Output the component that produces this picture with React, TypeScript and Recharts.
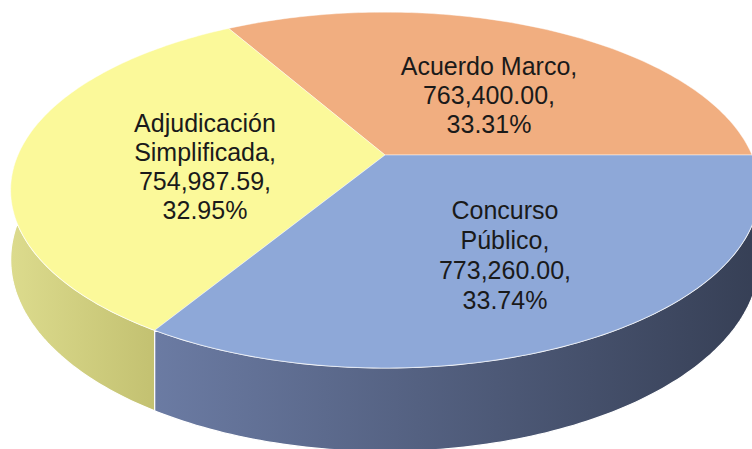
import { PieChart, Pie } from "recharts";

const categories = ["Acuerdo Marco", "Adjudicación Simplificada", "Concurso Público"];
const amounts = [763400.0, 754987.59, 773260.0];

const topColors = ["#F1AE80", "#FBF99A", "#8EA8D8"];
const sideColors = [
  ["#d89a70", "#c0835c"],
  ["#dcdb8d", "#c3c171"],
  ["#6b7ba3", "#363f55"],
];

// where Excel put each data label (centre x, first baseline)
const labelPos = [
  { x: 489, y: 75 },
  { x: 205, y: 132 },
  { x: 505, y: 219 },
];

const data = categories.map((name, i) => ({ name, value: amounts[i] }));

// fake perspective for the tilted disc
const RX = 367;
const RY = 171;
const PERSP = 0.197;
const DEPTH = 67;

function proj(cx: number, cy: number, deg: number, drop = 0) {
  const a = (deg * Math.PI) / 180;
  const u = Math.cos(a);
  const v = Math.sin(a);
  const w = 1 + PERSP * v;
  return [cx + (RX * u) / w, cy - (RY * v) / w + drop / w];
}

function rim(cx: number, cy: number, from: number, to: number, drop = 0) {
  const pts: number[][] = [];
  const step = from < to ? 1 : -1;
  const n = Math.ceil(Math.abs(to - from));
  for (let k = 0; k <= n; k++) {
    const t = k === n ? to : from + k * step;
    pts.push(proj(cx, cy, t, drop));
  }
  return pts;
}

const toPath = (pts: number[][]) =>
  pts.map((p, i) => `${i ? "L" : "M"}${p[0].toFixed(2)},${p[1].toFixed(2)}`).join("") + "Z";

function TopFace(props: any) {
  const { cx, cy, startAngle, endAngle, index } = props;
  const s = Math.min(startAngle, endAngle);
  const e = Math.max(startAngle, endAngle);
  const pts = [[cx, cy], ...rim(cx, cy, s, e)];
  return (
    <path
      d={toPath(pts)}
      fill={topColors[index]}
      stroke="#ffffff"
      strokeOpacity={0.45}
      strokeWidth={1}
    />
  );
}

function SideWall(props: any) {
  const { cx, cy, startAngle, endAngle, index } = props;
  const s = Math.max(Math.min(startAngle, endAngle), 180);
  const e = Math.min(Math.max(startAngle, endAngle), 360);
  if (e <= s) return null;
  const top = rim(cx, cy, s, e);
  const bottom = rim(cx, cy, e, s, DEPTH);
  const pts = [...top, ...bottom];
  const xs = pts.map((p) => p[0]);
  const id = `side-${index}`;
  return (
    <g>
      <defs>
        <linearGradient
          id={id}
          gradientUnits="userSpaceOnUse"
          x1={Math.min(...xs)}
          y1={0}
          x2={Math.max(...xs)}
          y2={0}
        >
          <stop offset="0%" stopColor={sideColors[index][0]} />
          <stop offset="100%" stopColor={sideColors[index][1]} />
        </linearGradient>
      </defs>
      <path d={toPath(pts)} fill={`url(#${id})`} stroke="#ffffff" strokeWidth={1.2} />
    </g>
  );
}

function renderLabel(props: any) {
  const { index, name, value, percent } = props;
  const pos = labelPos[index];
  const words: string[] = name.length > 14 ? name.split(" ") : [name];
  const lines = [
    ...words.slice(0, -1),
    `${words[words.length - 1]},`,
    `${value.toLocaleString("en-US", { minimumFractionDigits: 2, maximumFractionDigits: 2 })},`,
    `${(percent * 100).toFixed(2)}%`,
  ];
  const gap = index === 2 ? 30 : 29;
  return (
    <text
      x={pos.x}
      y={pos.y}
      textAnchor="middle"
      fill="#1a1a1a"
      fontSize={25}
      fontFamily="'Liberation Sans', Arial, sans-serif"
    >
      {lines.map((l, i) => (
        <tspan key={i} x={pos.x} y={pos.y + i * gap}>
          {l}
        </tspan>
      ))}
    </text>
  );
}

export default function App() {
  return (
    <div style={{ position: "absolute", left: 0, top: 0, width: 752, height: 449, background: "#fff" }}>
      <PieChart width={752} height={449} margin={{ top: 0, right: 0, bottom: 0, left: 0 }}>
        <Pie
          data={data}
          dataKey="value"
          nameKey="name"
          cx={385}
          cy={155}
          outerRadius={150}
          startAngle={0}
          endAngle={360}
          shape={SideWall}
          isAnimationActive={false}
          label={false}
        />
        <Pie
          data={data}
          dataKey="value"
          nameKey="name"
          cx={385}
          cy={155}
          outerRadius={150}
          startAngle={0}
          endAngle={360}
          shape={TopFace}
          isAnimationActive={false}
          label={renderLabel}
          labelLine={false}
        />
      </PieChart>
    </div>
  );
}
